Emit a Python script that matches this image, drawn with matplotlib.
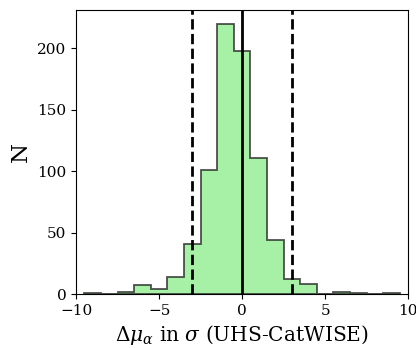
import matplotlib.pyplot as plt
import numpy as np

plt.rcParams["font.family"] = "DejaVu Serif"
plt.rcParams["mathtext.fontset"] = "dejavuserif"

# bin edges (in sigma) and counts
bin_edges = np.arange(-9.5, 10.0, 1.0)
counts = [1, 0, 2, 7, 4, 14, 41, 101, 220, 198, 111, 44, 12, 8, 0, 2, 1, 0, 1]
cut = 3.0

fig, ax = plt.subplots(figsize=(4.16, 3.48), dpi=100)

ax.hist(bin_edges[:-1], bins=bin_edges, weights=counts, histtype="stepfilled",
        facecolor="lightgreen", edgecolor="0.15", alpha=0.8, linewidth=1.3)
ax.axvline(0, color="k", lw=2)
ax.axvline(-cut, color="k", lw=2, ls="--")
ax.axvline(cut, color="k", lw=2, ls="--")

ax.set_xlim(-10, 10)
ax.set_xlabel(r"$\Delta\mu_\alpha$ in $\sigma$ (UHS-CatWISE)", fontsize=14.5)
ax.set_ylabel("N", fontsize=16.5)
ax.tick_params(labelsize=11)

fig.subplots_adjust(left=0.183, right=0.981, top=0.971, bottom=0.155)
fig.savefig("out.png")
